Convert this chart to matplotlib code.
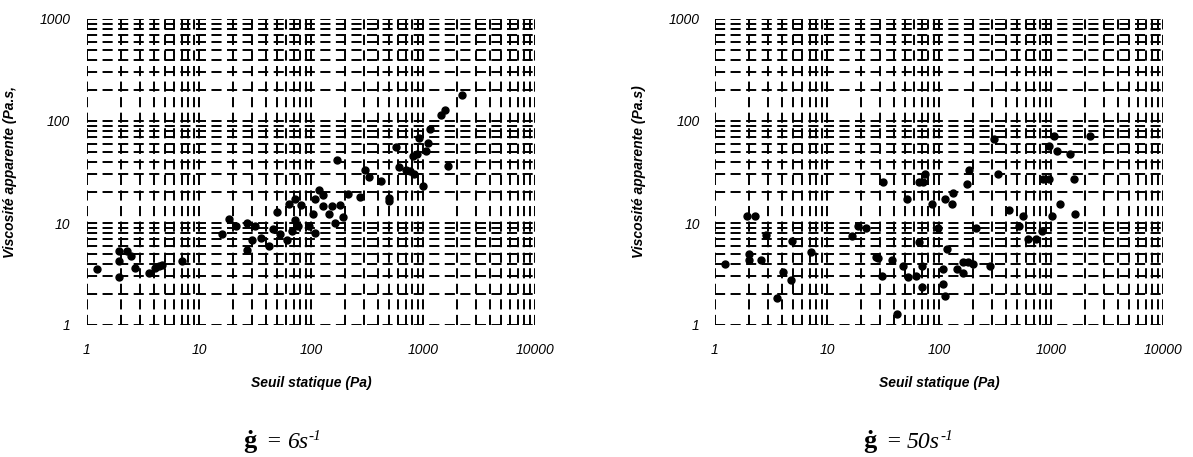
import matplotlib
matplotlib.use('Agg')
import matplotlib.pyplot as plt
import numpy as np
from matplotlib.ticker import FixedLocator, NullFormatter

plt.rcParams['font.family'] = ['Liberation Sans', 'DejaVu Sans']

# data
# left panel : shear rate 6 s-1
seuil_6 = [1.22, 1.94, 1.94, 1.94, 2.26, 2.46, 2.68, 3.58, 4.05, 4.4, 4.7, 7.0,
           16.1, 18.5, 21.3, 27, 31.6, 29.5, 27, 35.5, 42.2, 46, 50, 52.9, 60.7,
           63.6, 67.3, 72, 72, 81.4, 77, 96, 108.6, 105, 108.6, 118.6, 127, 129,
           146, 153, 164, 181.6, 172, 194.5, 213, 275.6, 303, 329.6, 422, 497,
           497, 570, 611, 700, 765, 831, 819, 877, 926, 1007, 1057, 1115, 1155,
           1450, 1572, 1660, 2215]
visco_6 = [3.55, 5.26, 4.2, 2.98, 5.26, 4.8, 3.61, 3.27, 3.61, 3.8, 3.85, 4.2,
           7.85, 10.9, 9.4, 10.1, 9.4, 6.85, 5.46, 7.2, 6.0, 8.7, 12.8, 7.85, 6.85,
           15.5, 8.3, 17, 10.8, 14.9, 9.3, 9.3, 8.0, 12.3, 17, 21.2, 18.7, 14.8,
           12.3, 14.8, 10, 15.1, 41, 11.4, 19.4, 17.9, 33.4, 28, 25.6, 17.6,
           16.3, 55.4, 35.2, 33.4, 32.2, 29.9, 45.2, 47, 68.5, 23.3, 50.6, 61.2,
           82.7, 113.5, 128, 36.6, 178.6]

# right panel : shear rate 50 s-1
seuil_50 = [1.24, 1.94, 2.27, 2.03, 2.03, 2.57, 2.84, 3.58, 4.07, 4.77, 4.84, 7.15,
            16.6, 18.8, 22.1, 27.4, 28.7, 30.8, 31.8, 37.8, 41.9, 48, 51.4, 52.5,
            62, 66.2, 66.7, 72.4, 75, 70, 70, 86, 97, 109, 109, 113, 113, 118.6,
            130, 134, 146, 165, 165, 179, 186.6, 183, 203, 214, 285, 312, 334,
            422, 518, 566, 628, 730, 826, 843, 967, 967, 1014, 1064, 1140, 1203,
            1479, 1604, 1638, 2228]
visco_50 = [3.98, 11.8, 11.8, 4.99, 4.35, 4.35, 7.55, 1.85, 3.3, 2.77, 6.6, 5.19,
            7.5, 9.4, 9.0, 4.63, 4.5, 3.03, 25.3, 4.35, 1.28, 3.83, 17, 2.98,
            3.0, 6.5, 25.3, 25.3, 30.5, 3.83, 2.35, 15.5, 9.0, 3.55, 2.53, 1.94,
            17.2, 5.6, 15.5, 19.7, 3.55, 4.1, 3.2, 24.3, 32.9, 4.1, 4.0, 8.93,
            3.8, 66, 30.5, 13.5, 9.3, 11.8, 7.0, 6.9, 8.27, 26.7, 26.7, 57.5,
            11.8, 72, 50.6, 15.5, 47.7, 26.7, 12.3, 72]

x_ticks = [1, 10, 100, 1000, 10000]
x_labels = ['1', '10', '100', '1000', '10000']
y_ticks = [1, 10, 100, 1000]
y_labels = ['1', '10', '100', '1000']
minor = [m * 10.0**e for e in range(0, 4) for m in range(2, 10)]

panels = [
    (seuil_6, visco_6, 'Viscosité apparente (Pa.s,', '6s', 87, 12, 243),
    (seuil_50, visco_50, 'Viscosité apparente (Pa.s)', '50s', 715, 11, 863),
]

fig = plt.figure(figsize=(11.93, 4.57), dpi=100)
renderer = fig.canvas.get_renderer()


def caption(x_px, rate):
    # g-dot = <rate>s^-1, written piece by piece in a serif face
    parts = [('\u0121', 'bold', 'normal', 19, 0),
             ('  = ', 'normal', 'normal', 17, 0),
             (rate, 'normal', 'italic', 17, 0),
             ('-1', 'normal', 'italic', 11, 8)]
    x = x_px
    for s, w, st, fs, dy in parts:
        t = fig.text(x / 1193, (457 - 448 + dy) / 457, s, family='Liberation Serif',
                     fontweight=w, fontstyle=st, fontsize=fs, ha='left', va='baseline')
        bb = t.get_window_extent(renderer)
        x += bb.width


for xs, ys, ylab, rate, left_px, ypad, cap_x in panels:
    ax = fig.add_axes([left_px / 1193, 1 - 325 / 457, 448 / 1193, 306 / 457])
    ax.set_xscale('log')
    ax.set_yscale('log')
    ax.set_xlim(1, 10000)
    ax.set_ylim(1, 1000)
    ax.plot(xs, ys, 'o', color='k', ms=5, zorder=3, clip_on=False)

    ax.xaxis.set_major_locator(FixedLocator(x_ticks))
    ax.yaxis.set_major_locator(FixedLocator(y_ticks))
    ax.xaxis.set_minor_locator(FixedLocator(minor))
    ax.yaxis.set_minor_locator(FixedLocator([m for m in minor if m < 1000]))
    ax.xaxis.set_minor_formatter(NullFormatter())
    ax.yaxis.set_minor_formatter(NullFormatter())
    ax.set_xticklabels(x_labels, fontstyle='italic', fontsize=10)
    ax.set_yticklabels(y_labels, fontstyle='italic', fontsize=10)
    ax.tick_params(which='both', length=0)
    ax.tick_params(axis='x', pad=13)
    ax.tick_params(axis='y', pad=ypad)

    ax.grid(True, which='both', color='k', lw=1.4, linestyle=(0, (5.2, 2.8)))
    for s in ax.spines.values():
        s.set_visible(False)

    ax.set_xlabel('Seuil statique (Pa)', fontstyle='italic', fontweight='bold', fontsize=10, labelpad=14)
    ax.set_ylabel(ylab, fontstyle='italic', fontweight='bold', fontsize=10, labelpad=16)

    caption(cap_x, rate)

fig.savefig('out.png', dpi=100)
